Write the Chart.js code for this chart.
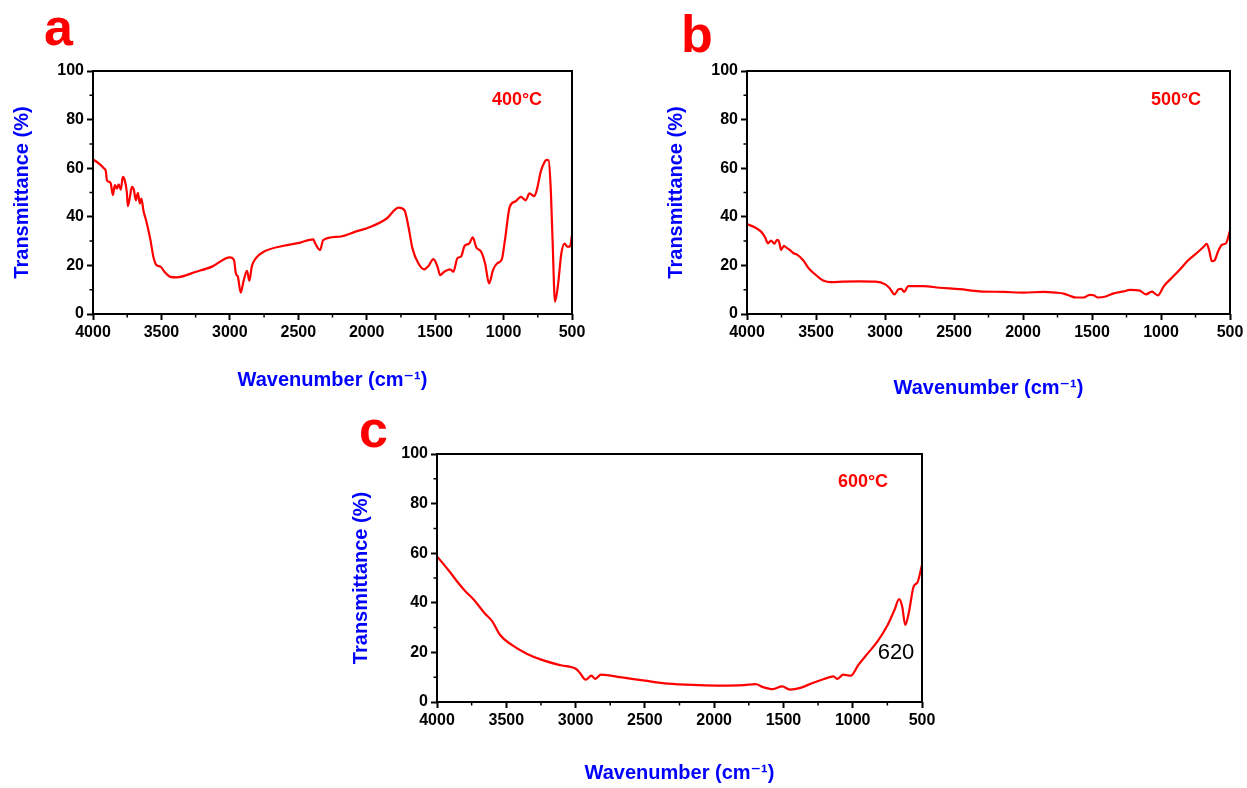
<!DOCTYPE html>
<html>
<head>
<meta charset="utf-8">
<title>FTIR spectra</title>
<script src="https://cdn.jsdelivr.net/npm/chart.js@4.4.1/dist/chart.umd.min.js"></script>
<style>
  html, body { margin: 0; padding: 0; background: #fff; width: 1247px; height: 788px; overflow: hidden; }
  canvas { position: absolute; }
</style>
</head>
<body>
<canvas id="ftirA" width="620" height="400" style="left:0;top:0"></canvas>
<canvas id="ftirB" width="627" height="400" style="left:620px;top:0"></canvas>
<canvas id="ftirC" width="620" height="388" style="left:330px;top:400px"></canvas>
<script>
// axis ticks (wavenumber is plotted high -> low)
const xTicks = [4000, 3500, 3000, 2500, 2000, 1500, 1000, 500];
const yTicks = [0, 20, 40, 60, 80, 100];
const xMinor = [3750, 3250, 2750, 2250, 1750, 1250, 750];
const yMinor = [10, 30, 50, 70, 90];

// 400 °C sample
const wnA = [4000, 3956, 3919, 3907, 3898, 3884, 3870, 3855, 3840, 3826, 3812, 3797, 3782, 3768, 3753, 3745,
  3730, 3716, 3701, 3687, 3672, 3658, 3646, 3632, 3609, 3580, 3559, 3536, 3507, 3478, 3435, 3391, 3246, 3130,
  3000, 2970, 2956, 2941, 2921, 2898, 2875, 2857, 2840, 2811, 2753, 2608, 2492, 2390, 2376, 2341, 2318, 2202,
  2086, 1970, 1854, 1767, 1724, 1695, 1666, 1622, 1579, 1550, 1512, 1483, 1463, 1434, 1390, 1367, 1338, 1309,
  1286, 1251, 1225, 1199, 1164, 1135, 1106, 1077, 1048, 1013, 990, 955, 912, 874, 839, 810, 775, 752, 729,
  700, 685, 671, 656, 642, 624, 601, 578, 555, 534, 515, 500];
const trA = [63.6, 61.9, 59.9, 58.9, 55.0, 54.4, 53.7, 48.9, 53.0, 51.6, 53.4, 51.2, 56.4, 55.0, 50.3, 44.4,
  48.2, 52.3, 51.0, 46.8, 49.9, 45.5, 47.5, 42.7, 37.9, 30.4, 23.6, 20.1, 19.5, 17.4, 15.3, 15.1, 17.4, 19.5,
  23.3, 22.2, 16.7, 15.3, 8.8, 14.0, 17.8, 13.7, 19.5, 22.9, 25.6, 28.1, 29.3, 30.7, 29.0, 26.3, 30.4, 31.8,
  33.8, 35.9, 39.3, 43.8, 42.7, 35.9, 27.0, 20.8, 18.4, 19.7, 22.6, 19.5, 16.0, 17.4, 18.4, 17.4, 22.9, 23.8,
  27.9, 29.0, 31.5, 27.4, 25.6, 20.8, 12.6, 18.1, 20.8, 22.5, 30.4, 44.1, 46.4, 48.2, 46.8, 49.6, 48.5, 52.3, 58.5,
  62.6, 63.4, 63.3, 52.3, 30.4, 5.1, 12.6, 24.9, 29.0, 27.7, 27.7, 32.5];

// 500 °C sample
const wnB = [4000, 3942, 3898, 3869, 3849, 3826, 3802, 3782, 3768, 3753, 3733, 3710, 3686, 3666, 3637, 3593,
  3550, 3506, 3448, 3390, 3303, 3187, 3070, 2998, 2969, 2931, 2902, 2882, 2861, 2832, 2722, 2606, 2460, 2315,
  2141, 1996, 1850, 1763, 1705, 1662, 1618, 1560, 1516, 1487, 1458, 1400, 1342, 1269, 1226, 1153, 1110, 1066,
  1023, 979, 921, 863, 805, 747, 689, 669, 651, 631, 611, 587, 558, 529, 500];
const trB = [37.0, 35.6, 33.9, 31.6, 29.1, 30.2, 28.9, 30.5, 29.8, 26.4, 28.0, 27.1, 26.2, 25.1, 24.4, 22.1,
  18.6, 16.3, 13.8, 13.1, 13.3, 13.4, 13.3, 12.2, 10.8, 8.1, 10.2, 10.4, 9.1, 11.5, 11.5, 10.8, 10.2, 9.3,
  9.1, 8.8, 9.1, 8.8, 8.4, 7.5, 6.8, 6.8, 7.9, 7.7, 6.8, 7.2, 8.5, 9.3, 9.9, 9.6, 8.1, 9.2,
  7.7, 11.5, 14.9, 18.3, 22.0, 24.8, 27.8, 28.9, 26.2, 21.7, 22.1, 25.7, 28.5, 29.1, 34.3];

// 600 °C sample
const wnC = [4000, 3959, 3904, 3849, 3794, 3739, 3656, 3601, 3546, 3463, 3353, 3243, 3106, 2996, 2968, 2927,
  2885, 2858, 2817, 2665, 2500, 2335, 2115, 1950, 1785, 1702, 1647, 1578, 1509, 1454, 1372, 1289, 1207, 1138,
  1110, 1069, 1014, 959, 890, 821, 753, 698, 665, 643, 621, 596, 560, 533, 500];
const trC = [58.7, 56.0, 52.2, 48.2, 44.6, 41.5, 35.8, 32.5, 27.1, 23.1, 19.5, 17.0, 14.8, 13.3, 11.7, 9.0,
  10.6, 9.3, 11.0, 9.9, 8.6, 7.4, 6.8, 6.6, 6.8, 7.2, 6.0, 5.2, 6.3, 5.0, 5.8, 7.7, 9.3, 10.3,
  9.3, 11.0, 10.6, 15.0, 19.7, 24.4, 30.5, 37.2, 41.5, 38.5, 31.1, 35.8, 46.6, 48.2, 55.3];

const FONT = "'Liberation Sans', Arial, 'DejaVu Sans', sans-serif";
const BLUE = '#0000ff';
const RED = '#ff0000';

// box frame, short minor ticks and the free text on each panel
const frameAndNotes = {
  id: 'frameAndNotes',
  afterDraw(chart, args, opts) {
    const { ctx, chartArea: a, scales: { x, y } } = chart;
    ctx.save();
    ctx.strokeStyle = '#000';
    ctx.lineWidth = 2;
    ctx.strokeRect(a.left, a.top, a.right - a.left, a.bottom - a.top);

    ctx.lineWidth = 1.5;
    ctx.beginPath();
    yMinor.forEach(v => {
      const py = y.getPixelForValue(v);
      ctx.moveTo(a.left, py);
      ctx.lineTo(a.left - 3.5, py);
    });
    xMinor.forEach(v => {
      const px = x.getPixelForValue(v);
      ctx.moveTo(px, a.bottom);
      ctx.lineTo(px, a.bottom + 3.5);
    });
    ctx.stroke();

    (opts.notes || []).forEach(n => {
      ctx.font = n.font;
      ctx.fillStyle = n.color;
      ctx.textAlign = n.align || 'center';
      ctx.textBaseline = n.baseline || 'middle';
      ctx.fillText(n.text, n.x, n.y);
    });
    ctx.restore();
  }
};

function makeChart(id, wn, tr, box, notes) {
  const points = wn.map((w, i) => ({ x: w, y: tr[i] }));
  const tickFont = { family: FONT, size: 16, weight: 'bold' };
  return new Chart(document.getElementById(id), {
    type: 'line',
    data: {
      datasets: [{
        data: points,
        borderColor: RED,
        borderWidth: 2.2,
        pointRadius: 0,
        cubicInterpolationMode: 'monotone',
        fill: false
      }]
    },
    options: {
      responsive: false,
      animation: false,
      devicePixelRatio: 1,
      layout: { padding: { top: box.top, right: box.right, bottom: 0, left: 0 } },
      plugins: {
        legend: { display: false },
        tooltip: { enabled: false },
        frameAndNotes: { notes }
      },
      scales: {
        x: {
          type: 'linear',
          reverse: true,
          min: 500,
          max: 4000,
          afterBuildTicks: s => { s.ticks = xTicks.map(v => ({ value: v })); },
          afterFit: s => { s.height = box.xHeight; },
          grid: { drawOnChartArea: false, tickLength: 6, tickWidth: 2, tickColor: '#000' },
          border: { display: false },
          ticks: {
            color: '#000',
            padding: 3,
            maxRotation: 0,
            autoSkip: false,
            font: tickFont,
            callback: v => String(v)
          },
          title: {
            display: true,
            text: 'Wavenumber (cm⁻¹)',
            color: BLUE,
            font: { family: FONT, size: 20, weight: 'bold' },
            padding: { top: 0, bottom: box.xTitlePad }
          }
        },
        y: {
          min: 0,
          max: 100,
          afterBuildTicks: s => { s.ticks = yTicks.map(v => ({ value: v })); },
          afterFit: s => { s.width = box.yWidth; },
          grid: { drawOnChartArea: false, tickLength: 6, tickWidth: 2, tickColor: '#000' },
          border: { display: false },
          ticks: {
            color: '#000',
            padding: 3,
            font: tickFont,
            callback: v => String(v)
          },
          title: {
            display: true,
            text: 'Transmittance (%)',
            color: BLUE,
            font: { family: FONT, size: 20, weight: 'bold' },
            padding: { top: box.yTitlePad, bottom: 0 }
          }
        }
      }
    },
    plugins: [frameAndNotes]
  });
}

const letterFont = `bold 52px ${FONT}`;
const tempFont = `bold 18px ${FONT}`;

makeChart('ftirA', wnA, trA,
  { top: 71, right: 48, xHeight: 86, yWidth: 93, xTitlePad: 8, yTitlePad: 10 },
  [
    { text: 'a', x: 44, y: 45, font: letterFont, color: RED, align: 'left', baseline: 'alphabetic' },
    { text: '400°C', x: 517, y: 100, font: tempFont, color: RED }
  ]);

makeChart('ftirB', wnB, trB,
  { top: 71, right: 17, xHeight: 86, yWidth: 127, xTitlePad: 0, yTitlePad: 44 },
  [
    { text: 'b', x: 61, y: 52, font: letterFont, color: RED, align: 'left', baseline: 'alphabetic' },
    { text: '500°C', x: 556, y: 100, font: tempFont, color: RED }
  ]);

makeChart('ftirC', wnC, trC,
  { top: 54, right: 28, xHeight: 86, yWidth: 107, xTitlePad: 3, yTitlePad: 19 },
  [
    { text: 'c', x: 29, y: 47, font: letterFont, color: RED, align: 'left', baseline: 'alphabetic' },
    { text: '600°C', x: 533, y: 82, font: tempFont, color: RED },
    { text: '620', x: 566, y: 253, font: `22px ${FONT}`, color: '#000' }
  ]);
</script>
</body>
</html>
